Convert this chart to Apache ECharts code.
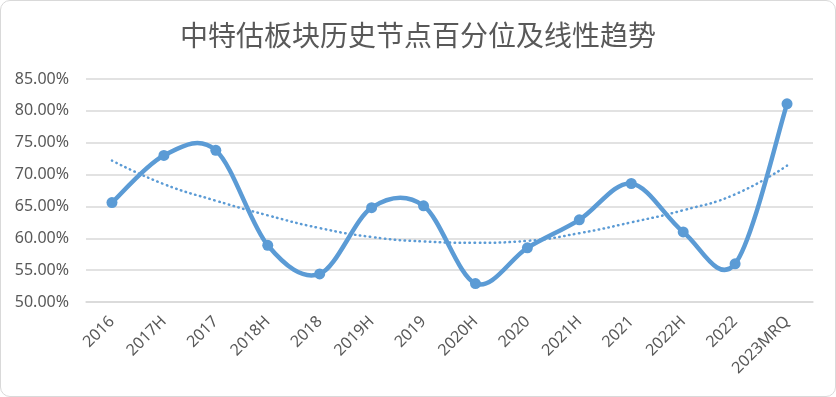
<!DOCTYPE html>
<html>
<head>
<meta charset="utf-8">
<script src="https://cdn.jsdelivr.net/npm/echarts@6/dist/echarts.min.js"></script>
<style>
  html, body { margin: 0; padding: 0; background: #fff; }
  #chart {
    width: 834px; height: 395px;
    border: 1px solid #d9d9d9; border-radius: 10px;
    overflow: hidden;
  }
</style>
</head>
<body>
<div id="chart"></div>
<script>
// 历史节点
const categories = ['2016', '2017H', '2017', '2018H', '2018', '2019H', '2019',
  '2020H', '2020', '2021H', '2021', '2022H', '2022', '2023MRQ'];
// 百分位 (%)
const percentile = [65.6, 73.0, 73.8, 58.9, 54.4, 64.8, 65.1, 52.9, 58.5, 62.9, 68.6, 61.0, 56.0, 81.1];
// 趋势线 (%)
const trend = [72.2, 68.5, 65.9, 63.6, 61.6, 60.2, 59.5, 59.3, 59.6, 60.8, 62.5, 64.4, 66.9, 71.4];
const yTicks = { min: 50, max: 85, step: 5 };

const lineColor = '#5b9bd5';
const textColor = '#595959';
const labelFont = 'Noto Sans';

// excel style smoothed segment i -> i+1 (cardinal spline, tension 1/6)
function renderSegment(params, api) {
  const i = params.dataIndex;
  const n = percentile.length;
  if (i >= n - 1) return null;
  const pt = k => api.coord([Math.max(0, Math.min(n - 1, k)), percentile[Math.max(0, Math.min(n - 1, k))]]);
  const p0 = pt(i - 1), p1 = pt(i), p2 = pt(i + 1), p3 = pt(i + 2);
  return {
    type: 'bezierCurve',
    shape: {
      x1: p1[0], y1: p1[1],
      x2: p2[0], y2: p2[1],
      cpx1: p1[0] + (p2[0] - p0[0]) / 6, cpy1: p1[1] + (p2[1] - p0[1]) / 6,
      cpx2: p2[0] - (p3[0] - p1[0]) / 6, cpy2: p2[1] - (p3[1] - p1[1]) / 6
    },
    style: { stroke: lineColor, lineWidth: 4.5, fill: null, lineCap: 'round' },
    silent: true
  };
}

const chart = echarts.init(document.getElementById('chart'));
chart.setOption({
  animation: false,
  title: {
    text: '中特估板块历史节点百分位及线性趋势',
    left: 'center',
    top: 15,
    textStyle: {
      color: textColor,
      fontSize: 28,
      fontWeight: 'normal',
      fontFamily: 'Noto Sans CJK SC'
    }
  },
  grid: { left: 85, right: 22, top: 78, bottom: 94 },
  xAxis: {
    type: 'category',
    data: categories,
    boundaryGap: true,
    axisLine: { lineStyle: { color: '#d9d9d9', width: 1.5 } },
    axisTick: { show: false },
    axisLabel: {
      rotate: 45,
      interval: 0,
      color: textColor,
      fontSize: 16,
      fontFamily: labelFont,
      margin: 17
    }
  },
  yAxis: {
    type: 'value',
    min: yTicks.min,
    max: yTicks.max,
    interval: yTicks.step,
    axisLine: { show: false },
    axisTick: { show: false },
    splitLine: { lineStyle: { color: '#d9d9d9', width: 1.5 } },
    axisLabel: {
      color: textColor,
      fontSize: 16,
      fontFamily: labelFont,
      margin: 17,
      formatter: v => v.toFixed(2) + '%'
    }
  },
  series: [
    {
      name: '趋势',
      type: 'line',
      data: trend,
      smooth: true,
      symbol: 'none',
      lineStyle: { color: lineColor, width: 2.5, type: [0.5, 4.5], cap: 'round' },
      z: 2
    },
    {
      name: '百分位',
      type: 'custom',
      data: percentile.map((v, i) => [i, v]),
      renderItem: renderSegment,
      z: 3
    },
    {
      name: '百分位点',
      type: 'scatter',
      data: percentile,
      symbol: 'circle',
      symbolSize: 11,
      itemStyle: { color: lineColor, opacity: 1 },
      z: 4
    }
  ]
});
</script>
</body>
</html>
